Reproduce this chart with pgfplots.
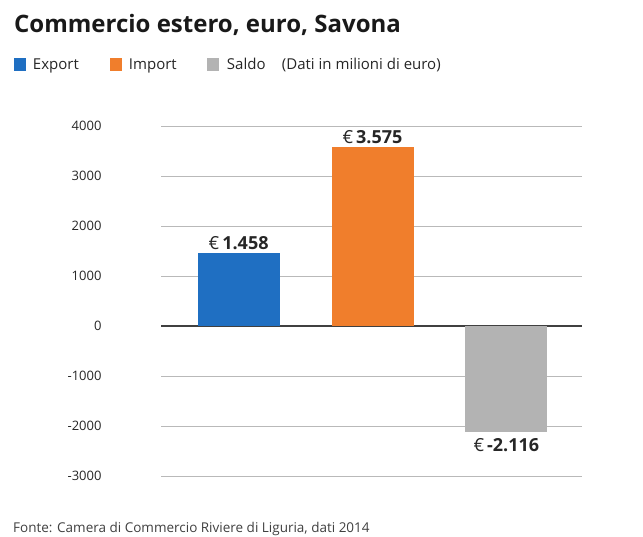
\documentclass[border=0pt]{standalone}
\usepackage{fontspec}
\setmainfont{Open Sans}
\usepackage{pgfplots}
\pgfplotsset{compat=1.18}
\definecolor{cexp}{HTML}{1F6FC2}
\definecolor{cimp}{HTML}{F07E2C}
\definecolor{csal}{HTML}{B3B3B3}
\begin{document}
\begin{tikzpicture}
\useasboundingbox (0,0) rectangle (643bp,537bp);
\begin{axis}[
  at={(161bp,61bp)}, anchor=south west,
  scale only axis, width=421bp, height=350bp,
  ybar, bar width=82bp, bar shift=0pt,
  xmin=-0.58, xmax=2.565,
  ymin=-3000, ymax=4000,
  xtick=\empty,
  ytick={-3000,-2000,...,4000},
  axis line style={draw=none},
  tick style={draw=none},
  ymajorgrids,
  grid style={gray!55, line width=0.9bp},
  extra y ticks={0}, extra y tick labels={},
  extra y tick style={grid style={black!75, line width=1.3bp}},
  /pgf/number format/assume math mode=true,
  /pgf/number format/1000 sep={},
  yticklabel style={font=\fontsize{13bp}{15bp}\selectfont, color=black!85, xshift=-56bp},
  point meta=explicit symbolic,
  nodes near coords={\fontsize{18bp}{22bp}\selectfont €\,\textbf{\pgfplotspointmeta}},
  every node near coord/.append style={color=black!85, inner sep=3bp},
  legend columns=4,
  legend style={at={(-0.3492,1.1743)}, anchor=west, draw=none, fill=none, inner sep=0pt, outer sep=0pt,
    font=\fontsize{15bp}{18bp}\selectfont, text=black!85,
    nodes={inner sep=0pt, outer sep=0pt}, /tikz/column sep=0pt},
  legend image code/.code={\fill[#1] (0bp,-6.5bp) rectangle (12bp,6.5bp);},
]
\addplot[fill=cexp, draw=none] coordinates {(0,1458) [1.458]};
\addlegendentry{\hspace{7bp}\makebox[77bp][l]{Export}}
\addplot[fill=cimp, draw=none] coordinates {(1,3575) [3.575]};
\addlegendentry{\hspace{7bp}\makebox[78bp][l]{Import}}
\addplot[fill=csal, draw=none, every node near coord/.append style={anchor=north, yshift=-3bp}] coordinates {(2,-2116) [-2.116]};
\addlegendentry{\hspace{8bp}\makebox[55bp][l]{Saldo}}
\addlegendimage{empty legend}
\addlegendentry{(Dati in milioni di euro)}
\end{axis}
\node[anchor=base west, inner sep=0, font=\fontsize{24bp}{28bp}\selectfont\bfseries, text=black!90] at (14bp,504bp) {Commercio estero, euro, Savona};
\node[anchor=base west, inner sep=0, font=\fontsize{13.5bp}{16bp}\selectfont, text=black!75] at (13bp,5bp) {Fonte: Camera di Commercio Riviere di Liguria, dati 2014};
\end{tikzpicture}
\end{document}
